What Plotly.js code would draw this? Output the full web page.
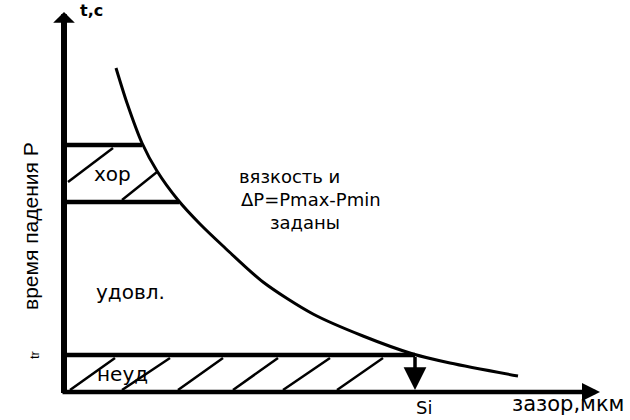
<!DOCTYPE html>
<html>
<head>
<meta charset="utf-8">
<script src="https://cdn.plot.ly/plotly-3.0.1.min.js"></script>
<style>html,body{margin:0;padding:0;background:#fff;}#chart{width:630px;height:420px;}</style>
</head>
<body>
<div id="chart"></div>
<script>
// Curve: fall time vs gap (schematic units)
const curveX = [52, 63, 78, 93, 114, 136, 159, 199, 249, 299, 349, 386, 454];
const curveY = [324, 289, 249, 221, 192, 168, 146, 110, 78, 56, 38, 29, 16];

// Zone boundaries (t levels) and where they meet the curve
const zoneLevels = [247, 190, 37];
const zoneEnds = [78, 115, 351];

// Given gap Si
const siValue = 351;

// Hatching of "хор" zone
const hatchGoodX0 = [4, 58];
const hatchGoodY0 = [210, 192];
const hatchGoodX1 = [49, 93];
const hatchGoodY1 = [244, 220];

// Hatching of "неуд" zone
const hatchBadX0 = [6, 58, 114, 169, 219, 273];
const hatchBadX1 = [51, 106, 159, 214, 266, 319];
const hatchBadY0 = 2;
const hatchBadY1 = 34;

// Axis extents
const axisXMax = 536;
const axisYMax = 380;

// Text
const yLabel = 'время падения P';
const tLabel = 'tr';
const xLabel = 'зазор,мкм';
const yUnit = 't,c';
const siLabel = 'Si';
const zoneLabels = ['хор', 'удовл.', 'неуд'];
const noteLines = ['вязкость и', 'ΔP=Pmax-Pmin', 'заданы'];

const traces = [];
traces.push({x: curveX, y: curveY, mode: 'lines', line: {color: '#000', width: 3, shape: 'spline', smoothing: 0.8}, hoverinfo: 'skip'});
zoneLevels.forEach((lv, i) => {
  traces.push({x: [0, zoneEnds[i]], y: [lv, lv], mode: 'lines', line: {color: '#000', width: 4.5}, hoverinfo: 'skip'});
});
const hx = [], hy = [];
hatchGoodX0.forEach((x0, i) => { hx.push(x0, hatchGoodX1[i], null); hy.push(hatchGoodY0[i], hatchGoodY1[i], null); });
hatchBadX0.forEach((x0, i) => { hx.push(x0, hatchBadX1[i], null); hy.push(hatchBadY0, hatchBadY1, null); });
traces.push({x: hx, y: hy, mode: 'lines', line: {color: '#000', width: 2.5}, hoverinfo: 'skip'});

// plot area geometry (pixels)
const L = 60, T = 10, R = 16, B = 24;
const W = 630, H = 420;
function lbl(text, px, py, size, opts) {
  opts = opts || {};
  return Object.assign({
    text: text, xref: 'paper', yref: 'paper', x: 0, y: 0,
    xshift: px - L, yshift: (H - B) - py,
    xanchor: 'center', yanchor: 'middle', showarrow: false,
    font: {family: opts.family || 'DejaVu Sans', size: size, color: '#000', weight: opts.weight || 'normal'}
  }, opts.extra || {});
}
function arrow(x, y, ax, ay, w, head, size) {
  return {text: ' ', x: x, y: y, ax: ax, ay: ay, xref: 'x', yref: 'y', axref: 'x', ayref: 'y',
    showarrow: true, arrowhead: head, arrowsize: size, arrowwidth: w, arrowcolor: '#000',
    standoff: 0, startstandoff: 0, font: {size: 1}};
}

const annotations = [
  arrow(0, axisYMax, 0, -3, 6, 1, 0.6),
  arrow(axisXMax, 0, -3, 0, 4.5, 2, 0.8),
  arrow(siValue, 2, siValue, zoneLevels[2], 3.5, 2, 1.3),
  lbl(yUnit, 91, 10, 16, {weight: 'bold'}),
  lbl(yLabel, 30, 226, 21, {family: 'Liberation Sans', extra: {textangle: -90}}),
  lbl(tLabel, 34, 355, 13, {family: 'Liberation Sans', extra: {textangle: -90}}),
  lbl(zoneLabels[0], 112, 174, 20),
  lbl(zoneLabels[1], 130, 292, 20),
  lbl(zoneLabels[2], 122, 374, 20),
  lbl(noteLines[0], 289, 176, 18),
  lbl(noteLines[1], 311, 199, 18),
  lbl(noteLines[2], 305, 222, 18),
  lbl(siLabel, 424, 407, 18),
  lbl(xLabel, 568, 404, 21)
];

const layout = {
  width: W, height: H,
  margin: {l: L, r: R, t: T, b: B, pad: 0},
  paper_bgcolor: '#fff', plot_bgcolor: '#fff',
  showlegend: false, hovermode: false,
  xaxis: {range: [-4, 550], visible: false, fixedrange: true},
  yaxis: {range: [-4, 382], visible: false, fixedrange: true},
  annotations: annotations
};
Plotly.newPlot('chart', traces, layout, {staticPlot: true, displayModeBar: false});
</script>
</body>
</html>
